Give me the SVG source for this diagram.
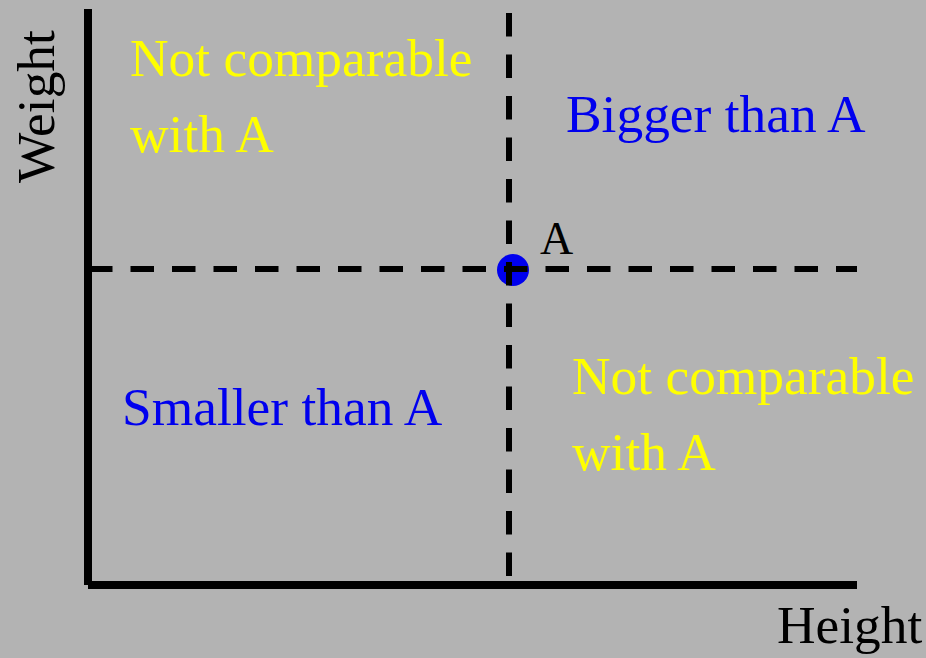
<svg xmlns="http://www.w3.org/2000/svg" width="926" height="658" viewBox="0 0 926 658">
  <style>
    text { font-family: "Liberation Serif", "Times New Roman", serif; font-size: 53.4px; }
    .yel { fill: #ffff00; }
    .blu { fill: #0000ee; }
    .blk { fill: #000000; }
    .axis { stroke: #000; stroke-width: 8; fill: none; stroke-linecap: butt; }
    .dash { stroke: #000; stroke-width: 6; fill: none; stroke-dasharray: 23.5 18; stroke-linecap: butt; }
  </style>
  <rect x="0" y="0" width="926" height="658" fill="#b3b3b3"/>
  <g id="point-A">
    <circle cx="513" cy="270" r="16" fill="#0000ee"/>
    <text x="540" y="254" class="blk" style="font-size:46px">A</text>
  </g>
  <g id="connectors">
    <line class="axis" x1="88" y1="9" x2="88" y2="585"/>
    <line class="axis" x1="88" y1="585" x2="857" y2="585"/>
    <line class="dash" x1="89" y1="269" x2="857" y2="269"/>
    <line class="dash" x1="509" y1="13" x2="509" y2="580"/>
  </g>
  <g id="label-weight">
    <text class="blk" transform="translate(54,183) rotate(-90)">Weight</text>
  </g>
  <g id="label-height">
    <text class="blk" x="777" y="643">Height</text>
  </g>
  <g id="quadrant-top-left">
    <text class="yel" x="130" y="76">Not comparable</text>
    <text class="yel" x="130" y="152">with A</text>
  </g>
  <g id="quadrant-top-right">
    <text class="blu" x="566" y="132">Bigger than A</text>
  </g>
  <g id="quadrant-bottom-left">
    <text class="blu" x="122" y="425">Smaller than A</text>
  </g>
  <g id="quadrant-bottom-right">
    <text class="yel" x="572" y="394">Not comparable</text>
    <text class="yel" x="572" y="470">with A</text>
  </g>
</svg>
